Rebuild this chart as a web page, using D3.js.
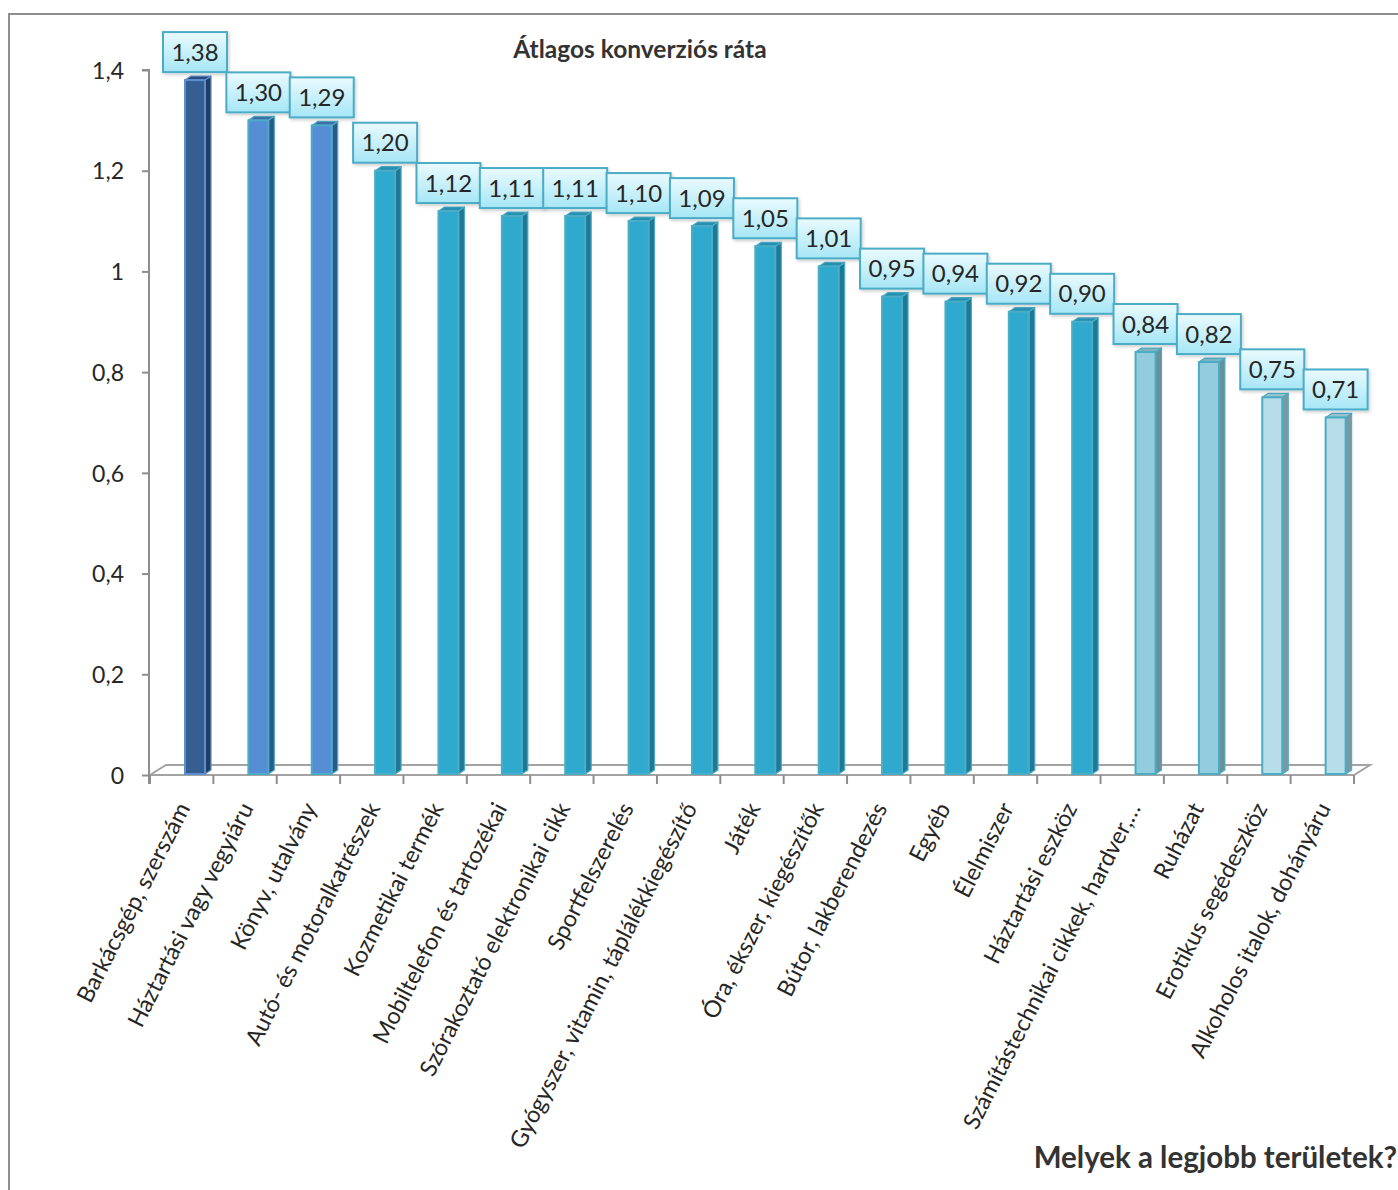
<!DOCTYPE html>
<html>
<head>
<meta charset="utf-8">
<script src="https://cdn.jsdelivr.net/npm/d3@7/dist/d3.min.js"></script>
<style>
  html, body { margin: 0; padding: 0; background: #ffffff; }
  svg { display: block; font-family: Lato, "Open Sans", sans-serif; }
</style>
</head>
<body>
<svg id="chart" width="1398" height="1190"></svg>
<script>
// Average conversion rate by product category
const categories = [
  "Barkácsgép, szerszám",
  "Háztartási vagy vegyiáru",
  "Könyv, utalvány",
  "Autó- és motoralkatrészek",
  "Kozmetikai termék",
  "Mobiltelefon és tartozékai",
  "Szórakoztató elektronikai cikk",
  "Sportfelszerelés",
  "Gyógyszer, vitamin, táplálékkiegészítő",
  "Játék",
  "Óra, ékszer, kiegészítők",
  "Bútor, lakberendezés",
  "Egyéb",
  "Élelmiszer",
  "Háztartási eszköz",
  "Számítástechnikai cikkek, hardver,…",
  "Ruházat",
  "Erotikus segédeszköz",
  "Alkoholos italok, dohányáru"
];
const values = [1.38, 1.30, 1.29, 1.20, 1.12, 1.11, 1.11, 1.10, 1.09, 1.05,
                 1.01, 0.95, 0.94, 0.92, 0.90, 0.84, 0.82, 0.75, 0.71];
const yTicks = [0, 0.2, 0.4, 0.6, 0.8, 1, 1.2, 1.4];
const chartTitle = "Átlagos konverziós ráta";
const footerText = "Melyek a legjobb területek?";

const huFormat = d3.formatLocale({ decimal: ",", thousands: " ", grouping: [3], currency: ["", " Ft"] });
const fmtValue = huFormat.format(".2f");
const fmtTick = huFormat.format("~g");

const svg = d3.select("#chart");
const defs = svg.append("defs");

// label box gradient and soft shadow
const grad = defs.append("linearGradient").attr("id", "boxGrad")
  .attr("x1", 0).attr("y1", 0).attr("x2", 0).attr("y2", 1);
grad.append("stop").attr("offset", "0%").attr("stop-color", "#eafafe");
grad.append("stop").attr("offset", "100%").attr("stop-color", "#a6e6f6");
const shadow = defs.append("filter").attr("id", "boxShadow")
  .attr("x", "-20%").attr("y", "-20%").attr("width", "150%").attr("height", "160%");
shadow.append("feDropShadow").attr("dx", 1.5).attr("dy", 2).attr("stdDeviation", 1.5)
  .attr("flood-color", "#000").attr("flood-opacity", 0.18);

// outer chart frame
svg.append("rect").attr("x", 9).attr("y", 14).attr("width", 1420).attr("height", 1200)
  .attr("fill", "none").attr("stroke", "#8e8e8e").attr("stroke-width", 2);

const x = d3.scaleBand().domain(categories).range([150, 1354]).padding(0);
const y = d3.scaleLinear().domain([0, 1.4]).range([775, 70]);

const depthX = 6, depthY = 4, barW = 20, barOffset = 35;
const floorDX = 16, floorDY = 10;

// floor of the 3D plot
const floor = svg.append("g").attr("stroke", "#a3a3a3").attr("stroke-width", 2).attr("fill", "none");
floor.append("path").attr("d",
  `M${x.range()[0]},${y(0)} L${x.range()[1]},${y(0)} L${x.range()[1] + floorDX},${y(0) - floorDY}` +
  ` L${x.range()[0] + floorDX},${y(0) - floorDY} Z`);

// y axis
const yAxis = d3.axisLeft(y).tickValues(yTicks).tickFormat(fmtTick).tickSize(7).tickPadding(18);
const gy = svg.append("g").attr("transform", "translate(149,0)").call(yAxis);
gy.select(".domain").attr("stroke", "#8e8e8e").attr("stroke-width", 2)
  .attr("d", `M-7,${y(1.4)}H0V${y(0) + 9}`);
gy.selectAll(".tick line").attr("stroke", "#8e8e8e").attr("stroke-width", 2);
gy.selectAll(".tick text").attr("fill", "#262626").attr("font-size", 23)
  .attr("font-family", "Lato, sans-serif").attr("dy", "0.36em");

// category ticks at band boundaries
const bounds = categories.map(c => x(c)).concat([x.range()[1]]);
svg.append("g").selectAll("line").data(bounds).join("line")
  .attr("x1", d => d).attr("x2", d => d)
  .attr("y1", y(0)).attr("y2", y(0) + 9)
  .attr("stroke", "#8e8e8e").attr("stroke-width", 2);

// rotated category labels
svg.append("g").selectAll("text").data(categories).join("text")
  .attr("transform", d => `translate(${x(d) + x.bandwidth() / 2 + 9},${y(0) + 33}) rotate(-63)`)
  .attr("text-anchor", "end")
  .attr("font-size", 23.3)
  .attr("fill", "#262626")
  .text(d => d);

// bar colour tiers
function tier(v) {
  if (v >= 1.35) return { front: "#355f92", side: "#213d60", top: "#2b4d77", edge: "#5d8fcf" };
  if (v >= 1.25) return { front: "#558ed5", side: "#2c5788", top: "#3f6ea8", edge: "#4bacc6" };
  if (v >= 0.88) return { front: "#2fa9ce", side: "#1f7896", top: "#2590b2", edge: "#4bacc6" };
  if (v >= 0.80) return { front: "#93cddd", side: "#6a8f99", top: "#7db2c0", edge: "#4bacc6" };
  return { front: "#b7dee8", side: "#7d979e", top: "#9cc3cd", edge: "#4bacc6" };
}

const bars = svg.append("g").selectAll("g").data(values).join("g");
const base = y(0) - 1;
bars.each(function (v, i) {
  const g = d3.select(this);
  const c = tier(v);
  const x0 = x(categories[i]) + barOffset;
  const yt = y(v);
  // side face
  g.append("path")
    .attr("d", `M${x0 + barW},${yt} L${x0 + barW + depthX},${yt - depthY} L${x0 + barW + depthX},${base - depthY} L${x0 + barW},${base} Z`)
    .attr("fill", c.side).attr("stroke", c.edge).attr("stroke-width", 1.2).attr("stroke-linejoin", "round");
  // top face
  g.append("path")
    .attr("d", `M${x0},${yt} L${x0 + depthX},${yt - depthY} L${x0 + barW + depthX},${yt - depthY} L${x0 + barW},${yt} Z`)
    .attr("fill", c.top).attr("stroke", c.edge).attr("stroke-width", 1.2).attr("stroke-linejoin", "round");
  // front face
  g.append("rect").attr("x", x0).attr("y", yt).attr("width", barW).attr("height", base - yt)
    .attr("fill", c.front).attr("stroke", c.edge).attr("stroke-width", 2);
});

// value label boxes
const boxW = 64, boxH = 40;
const labels = svg.append("g").selectAll("g").data(values).join("g")
  .attr("transform", (v, i) => {
    const cx = x(categories[i]) + barOffset + barW / 2;
    return `translate(${cx - boxW / 2},${y(v) - depthY - 4 - boxH})`;
  });
labels.append("rect").attr("width", boxW).attr("height", boxH)
  .attr("fill", "url(#boxGrad)").attr("stroke", "#4bacc6").attr("stroke-width", 2)
  .attr("filter", "url(#boxShadow)");
labels.append("text").attr("x", boxW / 2).attr("y", boxH / 2).attr("dy", "0.36em")
  .attr("text-anchor", "middle").attr("font-size", 24).attr("fill", "#262626")
  .text(v => fmtValue(v));

// titles
svg.append("text").attr("x", 640).attr("y", 58).attr("text-anchor", "middle")
  .attr("font-size", 24.5).attr("font-weight", "bold").attr("fill", "#333333").text(chartTitle);
svg.append("text").attr("x", 1397).attr("y", 1168).attr("text-anchor", "end")
  .attr("font-size", 29.5).attr("font-weight", "bold").attr("fill", "#333333").text(footerText);
</script>
</body>
</html>
